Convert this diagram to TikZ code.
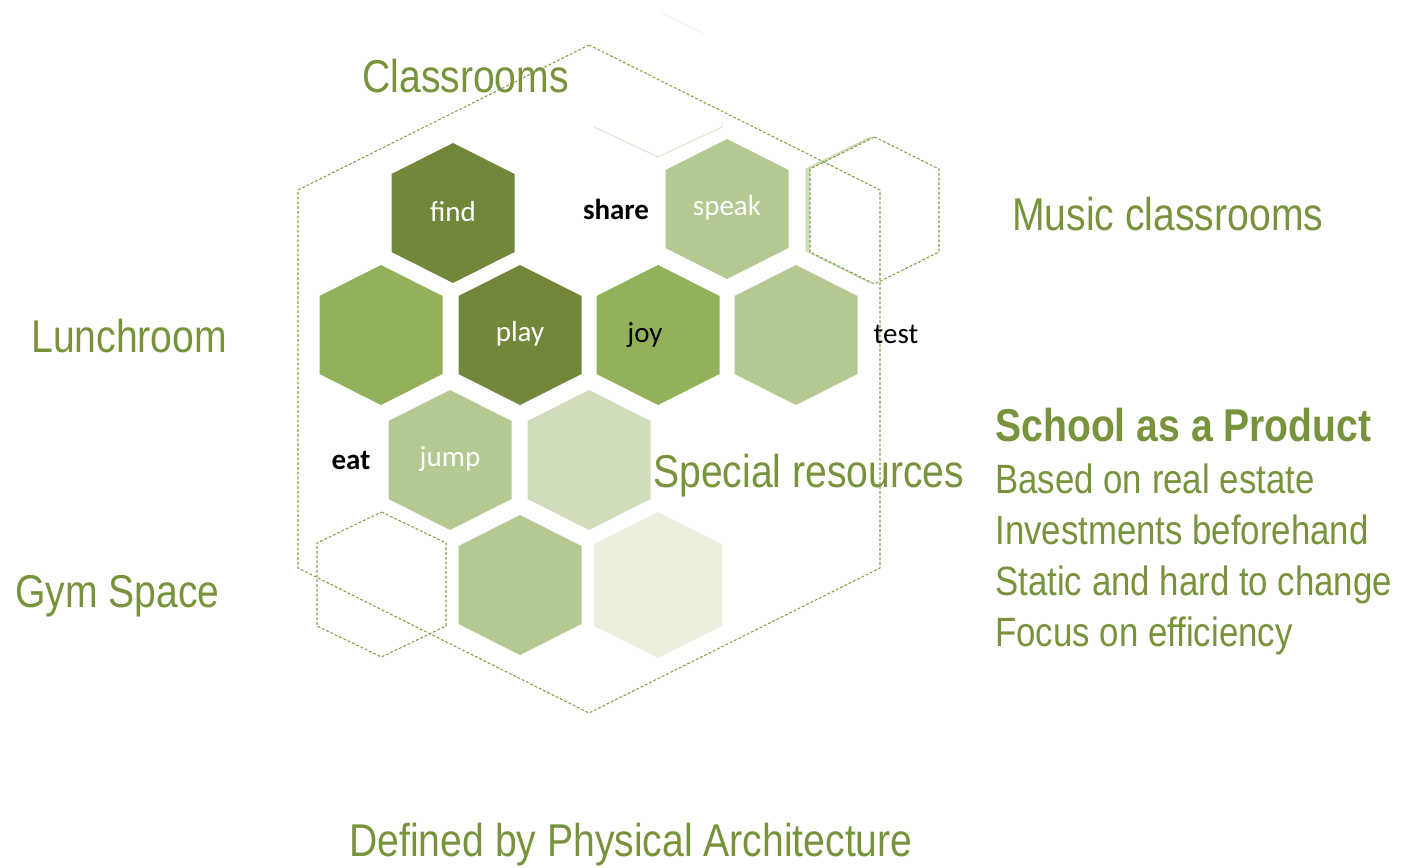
\documentclass[tikz,border=0pt]{standalone}
\usepackage{fontspec}
\setmainfont{Liberation Sans}[FakeStretch=0.85]
\newfontfamily\calibfont{Carlito}
\usetikzlibrary{positioning}
\definecolor{darkgreen}{HTML}{71883B}
\definecolor{midgreen}{HTML}{93B05B}
\definecolor{lightgreen}{HTML}{B3C991}
\definecolor{palegreen}{HTML}{D0DDBC}
\definecolor{palestgreen}{HTML}{EAEFDD}
\definecolor{textgreen}{HTML}{77933C}
\definecolor{linegreen}{HTML}{7F9F45}
\tikzset{
	pics/hexcell/.style args={#1/#2/#3}{
			code={
					\path[pic actions] (0,-#2) -- (#1,{#3-#2}) -- (#1,{#2-#3})
					-- (0,#2) -- (-#1,{#2-#3}) -- (-#1,{#3-#2}) -- cycle;
				}
		},
	darkcell/.style={fill=darkgreen},
	midcell/.style={fill=midgreen},
	lightcell/.style={fill=lightgreen},
	palecell/.style={fill=palegreen},
	palestcell/.style={fill=palestgreen},
	dashframe/.style={
			draw=linegreen,
			line width=0.6pt,
			dash pattern=on 1.6pt off 1.1pt
		},
	faintline/.style={draw=linegreen!30, line width=0.5pt},
	cellword/.style={
			inner sep=0pt,
			text=white,
			font=\calibfont\fontsize{16.5}{18}\selectfont
		},
	wordnode/.style={cellword, text=black},
	boldword/.style={wordnode, font=\calibfont\bfseries\fontsize{16.5}{18}\selectfont},
	biglabel/.style={
			inner sep=0pt,
			anchor=base west,
			text=textgreen,
			font=\fontsize{26.2}{30}\selectfont
		},
	sidelabel/.style={biglabel, font=\fontsize{23.3}{27}\selectfont}
}
\begin{document}
\begin{tikzpicture}[x=0.02cm, y=-0.02cm]
\useasboundingbox (0,0) rectangle (1410,868);

% frames behind the cells
\pic[palecell] at (870,210) {hexcell=64.5/73.5/32};
\pic[dashframe, fill=white] at (874.5,210.5) {hexcell=64.5/73.5/32};
\pic[dashframe] at (381.5,584.5) {hexcell=64.5/72.5/31};
\draw[faintline] (594,127) -- (658,157) -- (722,127) -- (722,122);
\draw[faintline, draw=linegreen!15] (662,13) -- (703,33);
\pic[dashframe] at (589,379) {hexcell=291/334/145};

% cells
\pic[darkcell] at (453,213) {hexcell=61.5/70/31};
\pic[lightcell] at (727,209) {hexcell=61.5/70/31};

\pic[midcell] at (381,335) {hexcell=61.5/70/31};
\pic[darkcell] at (520,335) {hexcell=61.5/70/31};
\pic[midcell] at (658,335) {hexcell=61.5/70/31};
\pic[lightcell] at (796,335) {hexcell=61.5/70/31};

\pic[lightcell] at (450,460) {hexcell=61.5/70/31};
\pic[palecell] at (589,460) {hexcell=61.5/70/31};

\pic[lightcell] at (520,585) {hexcell=61.5/70/31};
\pic[palestcell] at (658,585) {hexcell=64/73/32};

% words
\node[cellword] (tFind) at (453,212) {find};
\node[cellword] (tSpeak) at (727,208) {speak};
\node[cellword] (tPlay) at (520,334) {play};
\node[cellword] (tJump) at (450,459) {jump};
\node[boldword] (tShare) at (616,209) {share};
\node[wordnode] (tJoy) at (645,335) {joy};
\node[wordnode] (tTest) at (896,334) {test};
\node[boldword] (tEat) at (351,460) {eat};

% space names
\node[biglabel] (lClass) at (362,93) {Classrooms};
\node[biglabel] (lMusic) at (1012,231) {Music classrooms};
\node[biglabel] (lLunch) at (31,352) {Lunchroom};
\node[biglabel] (lGym) at (15,607) {Gym Space};
\node[biglabel] (lSpecial) at (653,487) {Special resources};
\node[biglabel] (lArch) at (349,856) {Defined by Physical Architecture};

% product list
\node[biglabel, font=\bfseries\fontsize{26.2}{30}\selectfont] (sTitle) at (995,441) {School as a Product};
\node[sidelabel] (sReal) at (995,493) {Based on real estate};
\node[sidelabel] (sInvest) at (995,544) {Investments beforehand};
\node[sidelabel] (sStatic) at (995,595) {Static and hard to change};
\node[sidelabel] (sFocus) at (995,646) {Focus on efficiency};

\end{tikzpicture}
\end{document}
